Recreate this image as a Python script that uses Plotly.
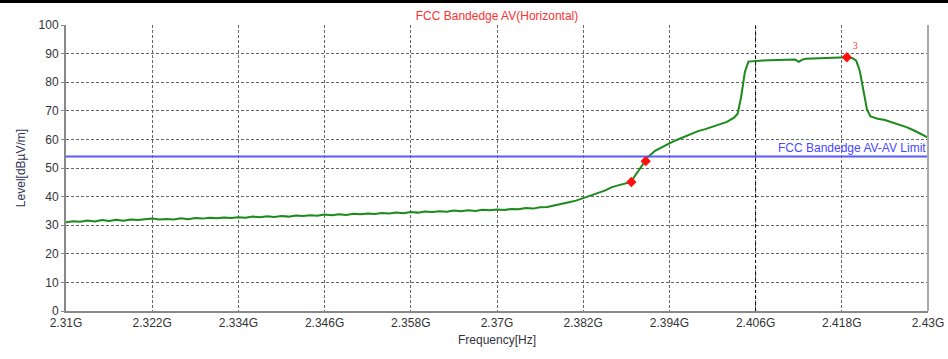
import plotly.graph_objects as go

# ---- data ----
freq_ghz = [
    2.310, 2.311, 2.312, 2.313, 2.314, 2.315, 2.316, 2.317, 2.318, 2.319,
    2.320, 2.321, 2.322, 2.323, 2.324, 2.325, 2.326, 2.327, 2.328, 2.329,
    2.330, 2.331, 2.332, 2.333, 2.334, 2.335, 2.336, 2.337, 2.338, 2.339,
    2.340, 2.341, 2.342, 2.343, 2.344, 2.345, 2.346, 2.347, 2.348, 2.349,
    2.350, 2.351, 2.352, 2.353, 2.354, 2.355, 2.356, 2.357, 2.358, 2.359,
    2.360, 2.361, 2.362, 2.363, 2.364, 2.365, 2.366, 2.367, 2.368, 2.369,
    2.370, 2.371, 2.372, 2.373, 2.374, 2.375, 2.376, 2.377, 2.378, 2.379,
    2.380, 2.381, 2.382, 2.383, 2.384, 2.385, 2.386, 2.387, 2.388, 2.3887,
    2.389, 2.390, 2.3907, 2.391, 2.392, 2.393, 2.394, 2.395, 2.396, 2.397,
    2.398, 2.399, 2.400, 2.401, 2.402, 2.403, 2.4035, 2.4040, 2.4045, 2.4050,
    2.406, 2.407, 2.408, 2.409, 2.410, 2.411, 2.4115, 2.412, 2.4125, 2.413,
    2.414, 2.415, 2.416, 2.417, 2.418, 2.4187, 2.4195, 2.4200, 2.4205, 2.4210,
    2.4215, 2.4220, 2.423, 2.424, 2.425, 2.426, 2.427, 2.428, 2.429, 2.430,
]
level_dbuv = [
    31.0, 31.4, 31.2, 31.6, 31.3, 31.8, 31.5, 31.9, 31.6, 32.0,
    31.8, 32.1, 32.3, 32.0, 32.2, 32.0, 32.4, 32.1, 32.5, 32.3,
    32.6, 32.4, 32.7, 32.5, 32.8, 32.6, 33.0, 32.8, 33.1, 32.9,
    33.2, 33.0, 33.4, 33.2, 33.5, 33.3, 33.7, 33.5, 33.8, 33.6,
    34.0, 33.8, 34.1, 33.9, 34.3, 34.1, 34.4, 34.2, 34.6, 34.4,
    34.8, 34.6, 34.9, 34.7, 35.1, 34.9, 35.2, 35.0, 35.4, 35.2,
    35.5, 35.3, 35.7, 35.6, 36.0, 35.8, 36.3, 36.4, 36.9, 37.3,
    38.0, 38.6, 39.4, 40.2, 41.2, 42.1, 43.3, 44.0, 44.6, 45.1,
    46.5, 50.0, 52.4, 53.8, 56.0, 57.4, 58.6, 59.8, 60.9, 61.9,
    62.9, 63.6, 64.4, 65.2, 66.1, 67.6, 69.0, 75.0, 83.5, 87.2,
    87.5, 87.6, 87.7, 87.8, 87.9, 88.0, 87.9, 87.1, 87.9, 88.2,
    88.3, 88.4, 88.5, 88.6, 88.7, 88.7, 88.4, 87.5, 84.0, 77.0,
    70.5, 68.0, 67.2, 66.8, 66.0, 65.2, 64.3, 63.2, 62.0, 60.6,
]

marker_freq = [2.3887, 2.3907, 2.4187]
marker_level = [45.1, 52.4, 88.7]
marker_label = ["", "", "3"]

limit_level = 54.0
limit_name = "FCC Bandedge AV-AV Limit"
center_line_freq = 2.406

x_tickvals = [2.310, 2.322, 2.334, 2.346, 2.358, 2.370, 2.382, 2.394, 2.406, 2.418, 2.430]
x_ticktext = ["2.31G", "2.322G", "2.334G", "2.346G", "2.358G", "2.37G",
              "2.382G", "2.394G", "2.406G", "2.418G", "2.43G"]
y_tickvals = [0, 10, 20, 30, 40, 50, 60, 70, 80, 90, 100]

title_text = "FCC Bandedge AV(Horizontal)"
x_title = "Frequency[Hz]"
y_title = "Level[dBµV/m]"

# ---- figure ----
FONT = "Liberation Sans, Arial, sans-serif"
fig = go.Figure()

fig.add_trace(go.Scatter(
    x=freq_ghz, y=level_dbuv, mode="lines",
    line=dict(color="#1a8a1a", width=2), hoverinfo="skip", showlegend=False))

fig.add_trace(go.Scatter(
    x=[x_tickvals[0], x_tickvals[-1]], y=[limit_level, limit_level], mode="lines",
    line=dict(color="#5a5aff", width=2), showlegend=False))

fig.add_trace(go.Scatter(
    x=marker_freq, y=marker_level, mode="markers+text",
    marker=dict(color="#ff1010", size=8, symbol="diamond"),
    text=marker_label, textposition="top right",
    textfont=dict(color="#ff3030", size=10, family="Liberation Serif, serif"),
    showlegend=False))

fig.add_shape(type="line", x0=center_line_freq, x1=center_line_freq, y0=0, y1=100,
              xref="x", yref="y", line=dict(color="#000000", width=1, dash="dot"))

fig.add_annotation(x=1.0, xref="paper", y=limit_level, yref="y",
                   text=limit_name, showarrow=False, xanchor="right", yanchor="bottom",
                   yshift=0, font=dict(color="#4848ff", size=12, family=FONT))

fig.update_layout(
    width=948, height=359,
    margin=dict(l=66, r=20, t=25, b=48, autoexpand=False),
    paper_bgcolor="white", plot_bgcolor="white",
    title=dict(text=title_text, x=0.5, xref="paper", y=0.955, yref="container",
               xanchor="center", yanchor="middle",
               font=dict(color="#ff3030", size=12, family=FONT)),
    font=dict(family=FONT, size=12, color="#333333"),
)

GRID_DASH = "3px,2px"
fig.update_xaxes(
    range=[2.310, 2.430], tickvals=x_tickvals, ticktext=x_ticktext,
    showgrid=True, gridcolor="#666666", griddash=GRID_DASH, gridwidth=1,
    showline=True, linecolor="#888888", linewidth=2, mirror=False,
    ticks="", zeroline=False, automargin=False,
    title=dict(text=x_title, standoff=6, font=dict(size=12, color="#333344")),
    tickfont=dict(size=12, color="#333333"),
)
fig.update_yaxes(
    range=[0, 100], tickvals=y_tickvals,
    showgrid=True, gridcolor="#666666", griddash=GRID_DASH, gridwidth=1,
    showline=True, linecolor="#888888", linewidth=2,
    ticks="outside", ticklen=3, tickcolor="#888888", zeroline=False, automargin=False,
    title=dict(text=y_title, standoff=10, font=dict(size=12, color="#333355")),
    tickfont=dict(size=12, color="#333333"),
)

# right border
fig.add_shape(type="line", xref="paper", yref="paper", x0=1, x1=1, y0=0, y1=1,
              line=dict(color="#aaaaaa", width=2))

post = (
    "document.body.style.margin='0';"
    "document.body.style.overflow='hidden';"
    "var s=document.createElement('div');"
    "s.style.cssText='position:fixed;left:0;top:0;width:100%;height:3px;background:#000;z-index:10';"
    "document.body.appendChild(s);"
)
fig.write_html("out.html", config={"displayModeBar": False}, post_script=post)
